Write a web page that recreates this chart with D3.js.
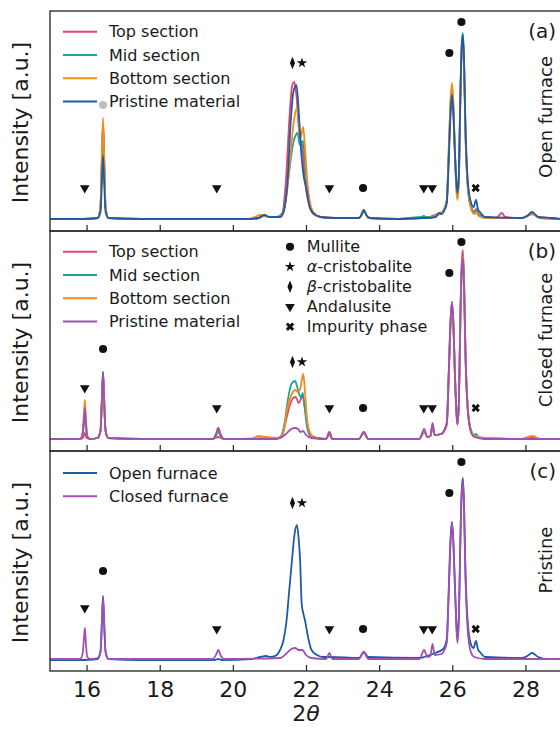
<!DOCTYPE html>
<html>
<head>
<meta charset="UTF-8">
<style>
  body { margin: 0; background: #fff; }
  text { font-family: "DejaVu Sans", sans-serif; fill: #1a1a1a; }
  .series { fill: none; stroke-width: 1.8px; stroke-linejoin: round; }
  .spine { fill: none; stroke: #222; stroke-width: 1.3px; }
</style>
</head>
<body>
<svg id="chart"></svg>
<script src="https://d3js.org/d3.v7.min.js"></script>
<script>

// 2-theta tick values
const xTicks = [16, 18, 20, 22, 24, 26, 28];

// panel (a) open furnace : [2theta, intensity a.u.]
const topA = [[15,12],[15.9,12],[16.3,13],[16.38,24],[16.42,75],[16.45,108],[16.48,75],[16.52,24],[16.6,13],[17.5,12],[18.5,12],[19.5,12],[20.4,12],[20.7,13],[20.86,16],[21,14],[21.2,14],[21.35,18],[21.45,50],[21.55,115],[21.62,145],[21.68,149],[21.74,135],[21.8,105],[21.86,88],[21.9,85],[21.95,60],[22,42],[22.1,24],[22.2,17],[22.4,14],[22.8,13],[23.45,13],[23.52,16],[23.58,20],[23.65,16],[23.75,13],[24.5,12],[25.1,13],[25.22,15],[25.3,13],[25.45,15],[25.6,17],[25.75,20],[25.85,30],[25.9,72],[25.95,118],[25.99,134],[26.03,118],[26.07,80],[26.11,48],[26.14,38],[26.18,55],[26.22,130],[26.26,185],[26.29,194],[26.32,170],[26.36,100],[26.42,48],[26.5,27],[26.6,19],[26.65,22],[26.72,17],[26.9,14],[27.2,13],[27.35,18],[27.45,14],[27.9,13],[28.05,15],[28.18,18],[28.35,14],[28.7,13],[29,12]];
const midA = [[15,12],[15.9,12],[16.3,13],[16.38,23],[16.42,70],[16.45,104],[16.48,70],[16.52,23],[16.6,13],[17.5,12],[19.5,12],[20.4,12],[20.7,13],[20.86,15],[21,14],[21.2,14],[21.35,17],[21.45,32],[21.55,62],[21.65,88],[21.72,96],[21.77,98],[21.83,86],[21.88,88],[21.92,90],[21.97,70],[22.03,46],[22.1,28],[22.2,18],[22.4,14],[22.8,13],[23.45,13],[23.58,20],[23.7,13],[24.5,12],[25.2,14],[25.45,14],[25.6,16],[25.75,20],[25.85,30],[25.9,75],[25.95,125],[25.99,144],[26.03,125],[26.07,82],[26.11,45],[26.14,33],[26.18,52],[26.22,135],[26.26,188],[26.29,198],[26.32,172],[26.36,100],[26.42,46],[26.5,25],[26.6,18],[26.65,21],[26.72,16],[26.9,13],[27.9,13],[28.18,17],[28.4,13],[29,12]];
const botA = [[15,12],[15.9,12],[16.3,13],[16.38,25],[16.42,78],[16.45,113],[16.48,78],[16.52,25],[16.6,13],[17.5,12],[19.5,12],[20.4,12],[20.6,14],[20.75,16],[20.86,15],[21,14],[21.2,14],[21.35,16],[21.45,32],[21.55,65],[21.65,105],[21.72,120],[21.76,123],[21.82,100],[21.86,94],[21.92,104],[21.97,85],[22.03,52],[22.1,30],[22.2,19],[22.4,14],[22.8,13],[23.45,13],[23.58,21],[23.7,13],[24.5,12],[25.2,13],[25.45,14],[25.6,16],[25.75,20],[25.85,32],[25.9,80],[25.95,130],[25.99,148],[26.03,128],[26.07,82],[26.11,42],[26.14,31],[26.18,50],[26.22,128],[26.26,182],[26.29,192],[26.32,168],[26.36,98],[26.42,45],[26.5,24],[26.6,17],[26.65,19],[26.72,15],[26.9,13],[27.9,13],[28.18,17],[28.4,13],[29,12]];
const priA = [[15,12],[15.9,12],[16.3,13],[16.38,19],[16.42,50],[16.45,75],[16.48,50],[16.52,19],[16.6,13],[17.5,12],[19.5,12],[20.4,12],[20.7,13],[20.86,16],[21,14],[21.2,14],[21.3,14],[21.38,18],[21.49,48],[21.58,108],[21.65,138],[21.74,146],[21.82,108],[21.88,74],[21.94,54],[22,44],[22.1,24],[22.2,18],[22.4,14],[22.8,13],[23.45,13],[23.52,16],[23.58,21],[23.65,16],[23.75,13],[24.5,12],[25.2,13],[25.3,13],[25.55,14],[25.63,18],[25.7,17],[25.8,22],[25.85,28],[25.9,68],[25.95,115],[25.99,136],[26.03,118],[26.07,80],[26.11,50],[26.14,38],[26.18,58],[26.22,135],[26.26,186],[26.29,196],[26.32,172],[26.36,105],[26.42,52],[26.5,30],[26.58,24],[26.65,31],[26.7,22],[26.78,18],[26.9,14],[27.9,13],[28.05,15],[28.18,19],[28.35,14],[28.7,13],[29,12]];

// panel (b) closed furnace
const topB = [[15,12],[15.82,12],[15.9,13],[15.95,18],[16.0,13],[16.1,12],[16.3,13],[16.38,20],[16.42,52],[16.45,79],[16.48,52],[16.52,20],[16.6,13],[17.5,12],[19.45,12],[19.6,14],[19.75,12],[21.2,13],[21.35,16],[21.45,30],[21.55,45],[21.65,53],[21.72,54],[21.8,48],[21.86,52],[21.9,56],[21.96,46],[22.03,28],[22.12,17],[22.3,13],[22.55,12],[22.64,17],[22.72,12],[23.45,12],[23.58,19],[23.7,12],[25.1,12],[25.23,19],[25.32,14],[25.4,15],[25.46,24],[25.52,16],[25.7,17],[25.85,26],[25.9,70],[25.95,125],[25.99,147],[26.03,125],[26.07,78],[26.11,40],[26.14,27],[26.18,48],[26.22,135],[26.26,190],[26.29,201],[26.32,175],[26.36,100],[26.42,45],[26.5,22],[26.6,15],[26.9,13],[27.9,12],[28.2,14],[28.4,12],[29,12]];
const midB = [[15,12],[15.82,12],[15.89,16],[15.93,28],[15.955,35],[15.98,25],[16.02,14],[16.1,12],[16.3,13],[16.38,20],[16.42,51],[16.45,78],[16.48,51],[16.52,20],[16.6,13],[17.5,12],[19.45,12],[19.55,16],[19.6,20],[19.66,15],[19.75,12],[21.2,13],[21.3,14],[21.4,25],[21.5,50],[21.6,67],[21.7,70],[21.76,64],[21.82,56],[21.86,54],[21.91,58],[21.96,44],[22.03,24],[22.12,15],[22.3,13],[22.55,12],[22.64,17],[22.72,12],[23.45,12],[23.58,18],[23.7,12],[25.1,12],[25.23,19],[25.32,14],[25.4,15],[25.46,25],[25.52,16],[25.7,17],[25.85,28],[25.9,74],[25.95,128],[25.99,149],[26.03,128],[26.07,80],[26.11,42],[26.14,27],[26.18,48],[26.22,130],[26.26,184],[26.29,195],[26.32,170],[26.36,98],[26.42,44],[26.5,22],[26.6,16],[26.65,17],[26.72,14],[26.9,12],[29,12]];
const botB = [[15,12],[15.82,12],[15.89,18],[15.93,38],[15.955,51],[15.98,34],[16.02,15],[16.1,12],[16.3,13],[16.38,20],[16.42,49],[16.45,75],[16.48,49],[16.52,20],[16.6,13],[17.5,12],[19.45,12],[19.55,18],[19.6,23],[19.66,17],[19.75,12],[20.5,12],[20.7,15],[20.9,14],[21.2,13],[21.3,14],[21.4,22],[21.5,45],[21.6,56],[21.7,61],[21.78,59],[21.84,62],[21.9,74],[21.925,77],[21.96,65],[22.02,35],[22.1,19],[22.2,14],[22.55,12],[22.64,19],[22.72,12],[23.45,12],[23.58,18],[23.7,12],[25.1,12],[25.23,20],[25.32,14],[25.4,15],[25.46,26],[25.52,16],[25.7,17],[25.85,28],[25.9,74],[25.95,127],[25.99,148],[26.03,127],[26.07,80],[26.11,42],[26.14,27],[26.18,48],[26.22,130],[26.26,184],[26.29,195],[26.32,170],[26.36,98],[26.42,44],[26.5,22],[26.6,15],[26.9,13],[27.9,12],[28.05,14],[28.2,15],[28.4,12],[29,12]];
const priB = [[15,12],[15.82,12],[15.89,17],[15.93,33],[15.955,43],[15.98,29],[16.02,14],[16.1,12],[16.3,13],[16.38,20],[16.42,52],[16.45,79],[16.48,52],[16.52,20],[16.6,13],[17.5,12],[19.45,12],[19.55,18],[19.6,23],[19.66,17],[19.75,12],[21.2,12],[21.3,13],[21.45,17],[21.6,22],[21.7,23],[21.78,22],[21.85,19],[21.92,20],[22.0,16],[22.15,13],[22.55,12],[22.64,19],[22.72,12],[23.45,12],[23.58,19],[23.7,12],[25.1,12],[25.23,22],[25.32,14],[25.4,15],[25.46,28],[25.52,16],[25.7,17],[25.85,28],[25.9,74],[25.95,128],[25.99,149],[26.03,128],[26.07,80],[26.11,42],[26.14,26],[26.18,48],[26.22,128],[26.26,182],[26.29,193],[26.32,168],[26.36,96],[26.42,42],[26.5,20],[26.6,14],[26.9,12],[29,12]];

// panel (c) pristine material
const openC = [[15,11],[15.9,11],[16.3,12],[16.38,19],[16.42,50],[16.45,75],[16.48,50],[16.52,19],[16.6,12],[17.5,11],[19.5,11],[19.6,12],[19.7,11],[20.5,12],[20.75,14],[20.9,15],[21.05,14],[21.2,16],[21.29,21],[21.38,30],[21.47,51],[21.54,80],[21.61,108],[21.68,135],[21.75,146],[21.8,132],[21.84,110],[21.88,68],[21.93,57],[21.97,51],[22.05,35],[22.15,21],[22.3,16],[22.47,14],[22.64,14],[23.45,13],[23.58,19],[23.7,14],[25.1,13],[25.23,14],[25.46,17],[25.75,22],[25.85,32],[25.9,78],[25.95,130],[25.99,149],[26.03,130],[26.07,88],[26.11,50],[26.14,33],[26.18,55],[26.22,130],[26.26,182],[26.29,193],[26.32,168],[26.36,100],[26.42,50],[26.5,28],[26.58,23],[26.65,30],[26.7,22],[26.78,18],[26.9,14],[27.9,13],[28.05,15],[28.18,18],[28.35,14],[28.6,12],[29,12]];
const closedC = [[15,12],[15.82,12],[15.89,17],[15.93,33],[15.955,43],[15.98,28],[16.02,14],[16.1,12],[16.3,13],[16.38,19],[16.42,48],[16.45,73],[16.48,48],[16.52,19],[16.6,12],[19.45,12],[19.55,17],[19.6,21],[19.66,16],[19.75,12],[21.3,13],[21.45,17],[21.6,22],[21.7,23],[21.8,21],[21.9,21],[22.0,16],[22.15,13],[22.55,12],[22.64,18],[22.72,12],[23.45,12],[23.58,19],[23.7,12],[25.1,12],[25.23,21],[25.32,14],[25.4,15],[25.46,27],[25.52,16],[25.7,17],[25.85,28],[25.9,75],[25.95,128],[25.99,148],[26.03,128],[26.07,85],[26.11,45],[26.14,28],[26.18,50],[26.22,128],[26.26,180],[26.29,190],[26.32,165],[26.36,95],[26.42,42],[26.5,20],[26.6,14],[26.9,12],[29,12]];

// phase markers: symbol kind, 2theta, height in each panel
const markerKind = ["tri", "circle", "tri", "diamond", "star", "tri", "circle", "tri", "tri", "circle", "circle", "x"];
const markerPos  = [15.95, 16.45, 19.56, 21.63, 21.89, 22.64, 23.56, 25.22, 25.45, 25.92, 26.25, 26.64];
const markerHA   = [43, 126, 43, 168, 168, 43, 43, 43, 43, 178, 209, 43];
const markerHB   = [63, 102, 43, 89, 89, 43, 43, 43, 43, 178, 209, 43];
const markerHC   = [63, 100, 42, 168, 168, 42, 42, 42, 42, 178, 209, 42];

// phase legend
const phaseKinds  = ["circle", "star", "diamond", "tri", "x"];
const phaseGreek  = ["", "α", "β", "", ""];
const phaseLabels = ["Mullite", "-cristobalite", "-cristobalite", "Andalusite", "Impurity phase"];

const colors = { top: "#e0476a", mid: "#1fa39a", bot: "#f28c1a", blue: "#1f5aa6", purple: "#a04fb5" };

let width = 560, height = 731;
let svg = d3.select("#chart").attr("width", width).attr("height", height);

let x = d3.scaleLinear().domain([15, 29]).range([50, 562]);

let panels = [
  { tag: "(a)", top: 11, side: "Open furnace", sideY: 117, legTop: 20.7, heights: markerHA,
    series: [["Top section", topA, colors.top], ["Mid section", midA, colors.mid],
             ["Bottom section", botA, colors.bot], ["Pristine material", priA, colors.blue]] },
  { tag: "(b)", top: 231, side: "Closed furnace", sideY: 340, legTop: 20.7, heights: markerHB,
    series: [["Top section", topB, colors.top], ["Mid section", midB, colors.mid],
             ["Bottom section", botB, colors.bot], ["Pristine material", priB, colors.purple]] },
  { tag: "(c)", top: 451, side: "Pristine", sideY: 560, legTop: 22, heights: markerHC,
    series: [["Open furnace", openC, colors.blue], ["Closed furnace", closedC, colors.purple]] }
];
let ph = 220;

function symbolPath(kind) {
  if (kind == "circle") return d3.symbol(d3.symbolCircle, 52)();
  if (kind == "tri") return d3.symbol(d3.symbolTriangle, 40)();
  if (kind == "star") return d3.symbol(d3.symbolStar, 34)();
  if (kind == "diamond") return d3.symbol(d3.symbolDiamond, 46)();
  return d3.symbol(d3.symbolCross, 44)();
}
function symbolTransform(kind, px, py) {
  let t = "translate(" + px + "," + py + ")";
  if (kind == "tri") t += " rotate(180)";
  if (kind == "diamond") t += " scale(0.7,1)";
  if (kind == "x") t += " rotate(45)";
  return t;
}

panels.forEach((p, i) => {
  let y = d3.scaleLinear().domain([0, ph]).range([p.top + ph, p.top]);
  let g = svg.append("g");

  g.append("clipPath").attr("id", "clip" + i)
    .append("rect").attr("x", 50).attr("y", p.top).attr("width", 512).attr("height", ph);

  let line = d3.line().x(d => x(d[0])).y(d => y(d[1])).curve(d3.curveMonotoneX);

  g.append("g").attr("clip-path", "url(#clip" + i + ")")
    .selectAll("path")
    .data(p.series)
    .enter().append("path")
    .attr("class", "series")
    .attr("stroke", d => d[2])
    .attr("d", d => line(d[1]));

  // phase markers
  g.selectAll("path.marker")
    .data(markerKind)
    .enter().append("path")
    .attr("class", "marker")
    .attr("d", k => symbolPath(k))
    .attr("transform", (k, j) => symbolTransform(k, x(markerPos[j]), y(p.heights[j])))
    .attr("fill", (k, j) => (i == 0 && j == 1) ? "#bdbdbd" : "#111");

  // spines and inward ticks
  g.append("rect").attr("class", "spine")
    .attr("x", 50).attr("y", p.top).attr("width", 512).attr("height", ph);

  let axis = d3.axisBottom(x).tickValues(xTicks).tickSizeInner(-6).tickSizeOuter(0).tickPadding(10.5);
  if (i < 2) axis.tickFormat("");
  let ax = g.append("g").attr("transform", "translate(0," + (p.top + ph) + ")").call(axis);
  ax.select(".domain").remove();
  ax.selectAll("line").attr("stroke", "#222").attr("stroke-width", 1.2);
  ax.selectAll("text").style("font-family", "DejaVu Sans").style("font-size", "22px").attr("fill", "#1a1a1a");

  // series legend
  p.series.forEach((s, k) => {
    let ly = p.top + p.legTop + k * 23.3;
    g.append("line").attr("x1", 63).attr("x2", 97).attr("y1", ly).attr("y2", ly)
      .attr("stroke", s[2]).attr("stroke-width", 2);
    g.append("text").attr("x", 109).attr("y", ly + 5.5).style("font-size", "16px").text(s[0]);
  });

  // panel tag and side label
  g.append("text").attr("x", 556).attr("y", p.top + 27).attr("text-anchor", "end")
    .style("font-size", "20px").text(p.tag);
  g.append("text").attr("transform", "translate(552," + p.sideY + ") rotate(-90)")
    .attr("text-anchor", "middle").style("font-size", "18px").text(p.side);

  g.append("text").attr("transform", "translate(28," + (p.top + ph / 2 + 1.5) + ") rotate(-90)")
    .attr("text-anchor", "middle").style("font-size", "22px").text("Intensity [a.u.]");
});

// phase legend in panel (b)
let leg = svg.append("g");
phaseKinds.forEach((k, i) => {
  let ly = 246.7 + i * 20;
  leg.append("path").attr("d", symbolPath(k)).attr("transform", symbolTransform(k, 290, ly)).attr("fill", "#111");
  let t = leg.append("text").attr("x", 306.7).attr("y", ly + 5.5).style("font-size", "16px");
  if (phaseGreek[i]) t.append("tspan").style("font-style", "italic").text(phaseGreek[i]);
  t.append("tspan").text(phaseLabels[i]);
});

// x label
let xl = svg.append("text").attr("x", 306).attr("y", 721).attr("text-anchor", "middle").style("font-size", "22px");
xl.append("tspan").text("2");
xl.append("tspan").style("font-style", "italic").text("θ");

</script>
</body>
</html>
